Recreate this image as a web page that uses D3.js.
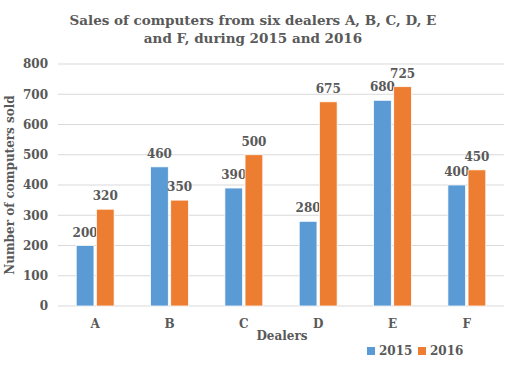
<!DOCTYPE html>
<html>
<head>
<meta charset="utf-8">
<script src="https://cdn.jsdelivr.net/npm/d3@7"></script>
<style>
  body { margin: 0; background: #fff; }
  text { font-family: "DejaVu Serif", serif; font-weight: bold; fill: #595959; }
</style>
</head>
<body>
<div id="chart"></div>
<script>
const dealers = ["A", "B", "C", "D", "E", "F"];
const years = ["2015", "2016"];
const sales2015 = [200, 460, 390, 280, 680, 400];
const sales2016 = [320, 350, 500, 675, 725, 450];
const yTicks = [0, 100, 200, 300, 400, 500, 600, 700, 800];
const titleLines = ["Sales of computers from six dealers A, B, C, D, E", "and F, during 2015 and 2016"];

const colors = { "2015": "#5b9bd5", "2016": "#ed7d31" };

const W = 526, H = 366;
const margin = { top: 64, right: 22, bottom: 60, left: 58 };
const width = W - margin.left - margin.right;
const height = H - margin.top - margin.bottom;

const svg = d3.select("#chart").append("svg")
	.attr("width", W)
	.attr("height", H);

const x = d3.scaleBand().domain(dealers).range([0, width]).paddingInner(0.49).paddingOuter(0.245);
const x1 = d3.scaleBand().domain(years).range([0, x.bandwidth()]).paddingInner(0.12);
const y = d3.scaleLinear().domain([0, 800]).range([height, 0]);

// title
svg.append("g").selectAll("text")
	.data(titleLines)
	.enter().append("text")
	.attr("x", 253)
	.attr("y", (d, i) => 25 + i * 18)
	.attr("text-anchor", "middle")
	.style("font-size", "13.5px")
	.text(d => d);

const g = svg.append("g").attr("transform", `translate(${margin.left},${margin.top})`);

// grid
g.append("g").selectAll("line")
	.data(yTicks)
	.enter().append("line")
	.attr("x1", 0).attr("x2", width)
	.attr("y1", d => y(d)).attr("y2", d => y(d))
	.attr("stroke", "#d9d9d9").attr("stroke-width", 1);

// y axis labels
const yAxis = g.append("g")
	.call(d3.axisLeft(y).tickValues(yTicks).tickSize(0).tickPadding(10));
yAxis.select(".domain").remove();
yAxis.selectAll("text").style("font-size", "12px").attr("fill", "#595959");

// x axis labels
const xAxis = g.append("g")
	.attr("transform", `translate(0,${height})`)
	.call(d3.axisBottom(x).tickSize(0).tickPadding(13));
xAxis.select(".domain").remove();
xAxis.selectAll("text").style("font-size", "12px").attr("fill", "#595959");

const series = years.map((yr, i) => ({ year: yr, values: i === 0 ? sales2015 : sales2016 }));

series.forEach(s => {
	const grp = g.append("g");
	grp.selectAll("rect")
		.data(s.values)
		.enter().append("rect")
		.attr("x", (d, i) => x(dealers[i]) + x1(s.year))
		.attr("y", d => y(d))
		.attr("width", x1.bandwidth())
		.attr("height", d => height - y(d))
		.attr("fill", colors[s.year])
		.attr("stroke", "#fff")
		.attr("stroke-width", 0.75);
	grp.selectAll("text")
		.data(s.values)
		.enter().append("text")
		.attr("x", (d, i) => x(dealers[i]) + x1(s.year) + x1.bandwidth() / 2)
		.attr("y", d => y(d) - 9)
		.attr("text-anchor", "middle")
		.style("font-size", "12px")
		.text(d => d);
});

// axis titles
svg.append("text")
	.attr("transform", `translate(14,${margin.top + height / 2}) rotate(-90)`)
	.attr("text-anchor", "middle")
	.style("font-size", "12px")
	.text("Number of computers sold");

svg.append("text")
	.attr("x", 282)
	.attr("y", 340)
	.attr("text-anchor", "middle")
	.style("font-size", "12px")
	.text("Dealers");

// legend
const legend = svg.append("g").attr("transform", "translate(367,355)");
years.forEach((yr, i) => {
	const item = legend.append("g").attr("transform", `translate(${i * 51},0)`);
	item.append("rect").attr("x", 0).attr("y", -8).attr("width", 8).attr("height", 8).attr("fill", colors[yr]);
	item.append("text").attr("x", 12).attr("y", 0).style("font-size", "12px").text(yr);
});
</script>
</body>
</html>
